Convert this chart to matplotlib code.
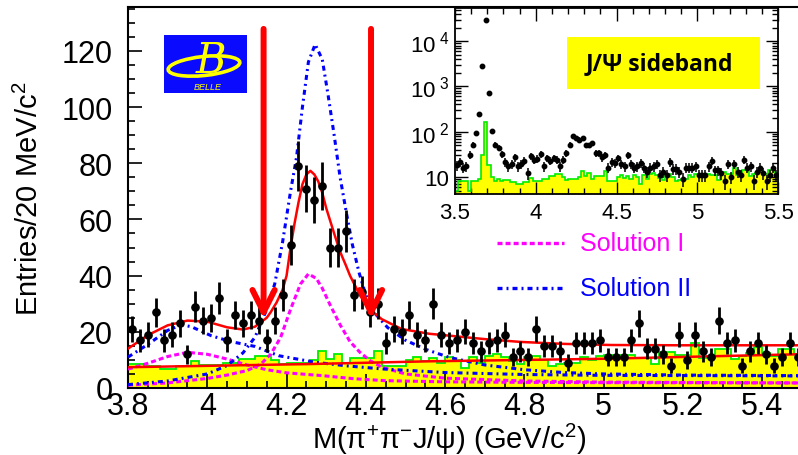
import numpy as np
import matplotlib
matplotlib.use("Agg")
import matplotlib.pyplot as plt
from matplotlib.patches import Rectangle, Ellipse
from matplotlib.ticker import MultipleLocator, FixedLocator, LogLocator, NullFormatter, FuncFormatter

plt.rcParams['font.family'] = ['Liberation Sans', 'DejaVu Sans']
plt.rcParams['mathtext.fontset'] = 'custom'
plt.rcParams['mathtext.rm'] = 'Liberation Sans'
plt.rcParams['mathtext.it'] = 'Liberation Sans:italic'
plt.rcParams['mathtext.bf'] = 'Liberation Sans:bold'
plt.rcParams['lines.scale_dashes'] = False

# ---- 20 MeV/c^2 bins of M(pi+ pi- J/psi), 3.5 - 5.5 GeV/c^2 ----
bin_edges = np.round(np.linspace(3.50, 5.50, 101), 3)
bin_centers = 0.5 * (bin_edges[:-1] + bin_edges[1:])

# events per bin (signal region)
data_counts = [
    18, 21, 16, 17, 31, 52, 95, 251, 2870, 29000, 724, 105, 52, 44, 32,
    21, 17, 19, 27, 17, 19, 23, 12, 29, 24, 25, 32, 17, 26, 23, 26, 24, 17, 24, 33,
    51, 79, 71, 67, 72, 50, 50, 56, 33, 34, 27, 30, 16, 21, 20,
    26, 19, 17, 30, 19, 16, 17, 20, 16, 13, 16, 17, 19, 11, 13, 11, 21, 15, 15, 13,
    9, 16, 16, 16, 17, 11, 11, 11, 17, 23, 14, 14, 12, 8, 19, 10, 19, 13, 11, 24,
    16, 17, 8, 13, 16, 12, 8, 11, 16, 11,
]

# normalised J/psi sideband
sideband = [
    5, 8, 8, 8, 5, 8, 8, 9, 30, 165, 18, 10, 8, 9, 8,
    8.5, 8.5, 7.7, 7.7, 6.8, 6.8, 7.7, 7.7, 9.7, 8.2,
    8.2, 8.2, 8.9, 8.9, 10.3, 10.3, 11.5, 11.5, 10, 8.5,
    9, 9, 9, 10, 13.3, 10.3, 12, 9, 10.5, 10.5,
    10.5, 13.3, 8, 8, 8, 10, 10.9, 9.5, 10.5, 9,
    11, 10, 7, 11, 9, 11.5, 12, 11, 9.5, 8.5,
    11, 11.5, 10, 8, 8.5, 9, 9, 11, 10, 11.5,
    11.7, 11.7, 11.7, 11.7, 10.8, 10.8, 8.5, 12.9, 12.9, 11.7,
    11.7, 16, 10.8, 10.8, 13.9, 13.9, 10.3, 11.5, 12.5, 14.6,
    12.5, 11.5, 13.9, 13.9, 12,
]

# ---- fit curves (mass in GeV/c^2, entries per bin) ----
fit_mass = [3.80, 3.85, 3.90, 3.95, 4.00, 4.05, 4.09, 4.12, 4.15, 4.16, 4.175, 4.19,
            4.20, 4.21, 4.22, 4.23, 4.24, 4.25, 4.26, 4.27, 4.28, 4.29, 4.30, 4.31,
            4.32, 4.335, 4.35, 4.36, 4.385, 4.41, 4.44, 4.49, 4.56, 4.62, 4.70,
            4.79, 4.90, 5.02, 5.20, 5.49]
fit_total = [14.0, 18.8, 22.3, 24.0, 23.6, 21.6, 20.8, 21.8, 25.0, 27.0, 30.5, 35.0,
             40.0, 50.0, 58.5, 66.0, 72.5, 76.0, 77.3, 76.0, 73.5, 69.5, 64.0, 59.5,
             55.0, 48.5, 43.5, 40.0, 33.0, 28.0, 24.5, 21.0, 19.3, 18.5, 17.4,
             16.4, 15.7, 15.3, 15.2, 15.2]

bkg_mass = [3.80, 4.25, 4.56, 5.00, 5.49]
bkg_fit = [7.4, 8.5, 9.5, 10.4, 12.0]

sol1_y4008_mass = [3.80, 3.85, 3.90, 3.95, 4.00, 4.05, 4.10, 4.15, 4.20, 4.29, 4.37,
                   4.45, 4.60, 4.80, 5.00, 5.49]
sol1_y4008 = [6.7, 8.8, 11.2, 12.7, 12.0, 10.3, 8.2, 6.5, 5.4, 4.4, 3.3,
              2.6, 2.2, 2.0, 1.9, 1.8]

sol1_y4260_mass = [3.80, 3.90, 4.00, 4.05, 4.10, 4.135, 4.16, 4.185, 4.21, 4.235,
                   4.255, 4.275, 4.29, 4.31, 4.335, 4.36, 4.385, 4.41, 4.44, 4.50,
                   4.60, 4.80, 5.00, 5.49]
sol1_y4260 = [1.0, 1.8, 3.4, 4.6, 6.2, 8.5, 12.0, 18.0, 28.0, 37.0,
              40.6, 39.0, 35.5, 29.5, 22.5, 16.5, 12.7, 9.8, 7.4, 5.0,
              3.5, 2.5, 2.1, 1.8]

sol2_y4008_mass = [3.80, 3.85, 3.90, 3.935, 3.96, 4.01, 4.06, 4.12, 4.18, 4.27, 4.35,
                   4.44, 4.60, 4.80, 5.00, 5.49]
sol2_y4008 = [11.0, 15.5, 20.5, 22.5, 21.8, 18.6, 16.5, 14.8, 11.5, 9.2, 7.9,
              6.8, 5.5, 4.8, 4.5, 4.3]

sol2_y4260_mass = [3.80, 3.90, 4.00, 4.05, 4.09, 4.12, 4.15, 4.17, 4.19, 4.21, 4.225,
                   4.24, 4.255, 4.272, 4.29, 4.305, 4.32, 4.335, 4.35, 4.366, 4.383,
                   4.40, 4.42, 4.455, 4.50, 4.55, 4.61, 4.70, 4.80, 4.90, 5.00,
                   5.20, 5.49]
sol2_y4260 = [1.2, 2.5, 5.0, 8.0, 12.5, 18.0, 28.0, 37.0, 52.0, 70.0, 82.0,
              100.0, 116.0, 122.3, 117.0, 104.0, 90.0, 75.0, 63.0, 51.0, 41.0,
              33.0, 27.0, 21.5, 17.0, 13.8, 10.9, 8.2, 6.5, 5.5, 5.0,
              4.6, 4.4]

# signal-window markers
window_edges = [4.142, 4.413]

YELLOW = '#ffff00'
GREEN = '#00ee00'
MAGENTA = '#ff00ff'
BLUE = '#0000ff'
RED = '#ff0000'
DASH = (3.6, 2.2)
DASHDOT = (3.6, 2.9, 1.4, 2.9)

counts = np.array(data_counts, dtype=float)
errors = np.sqrt(counts)

fig = plt.figure(figsize=(7.98, 4.56), dpi=100)

# ---------------- main panel ----------------
ax = fig.add_axes([128 / 798, 67 / 456, 670 / 798, 381 / 456])
ax.set_xlim(3.8, 5.49)
ax.set_ylim(0, 135.6)

ax.stairs(sideband, bin_edges, baseline=0, fill=True, color=YELLOW, lw=0, zorder=1)
ax.stairs(sideband, bin_edges, baseline=0, color=GREEN, lw=1.3, zorder=2)

ax.plot(sol1_y4008_mass, sol1_y4008, color=MAGENTA, lw=2.2, dashes=DASH, zorder=3)
ax.plot(sol1_y4260_mass, sol1_y4260, color=MAGENTA, lw=2.2, dashes=DASH, zorder=3)
ax.plot(sol2_y4008_mass, sol2_y4008, color=BLUE, lw=2.2, dashes=DASHDOT, zorder=3)
ax.plot(sol2_y4260_mass, sol2_y4260, color=BLUE, lw=2.2, dashes=DASHDOT, zorder=3)
ax.plot(bkg_mass, bkg_fit, color=RED, lw=1.8, zorder=4)
ax.plot(fit_mass, fit_total, color=RED, lw=1.8, zorder=4)

ax.errorbar(bin_centers, counts, yerr=errors, fmt='o', color='black', ms=5.2,
            elinewidth=2.0, capsize=0, zorder=6)

for xm in window_edges:
    ax.annotate('', xy=(xm, 24.6), xytext=(xm, 127.8),
                arrowprops=dict(arrowstyle='->,head_length=1.6,head_width=0.8',
                                color=RED, lw=4.3, shrinkA=0, shrinkB=0,
                                mutation_scale=10),
                zorder=7)

# legend
ax.plot([0.551, 0.650], [0.38, 0.38], transform=ax.transAxes, color=MAGENTA,
        lw=2.4, dashes=DASH)
ax.text(0.675, 0.38, 'Solution I', transform=ax.transAxes, color=MAGENTA,
        fontsize=18, va='center', ha='left')
ax.plot([0.551, 0.650], [0.262, 0.262], transform=ax.transAxes, color=BLUE,
        lw=2.4, dashes=DASHDOT)
ax.text(0.675, 0.262, 'Solution II', transform=ax.transAxes, color=BLUE,
        fontsize=18, va='center', ha='left')

ax.xaxis.set_major_locator(MultipleLocator(0.2))
ax.xaxis.set_minor_locator(MultipleLocator(0.05))
ax.yaxis.set_major_locator(MultipleLocator(20))
ax.yaxis.set_minor_locator(MultipleLocator(5))
ax.xaxis.set_major_formatter(FuncFormatter(lambda v, p: f'{round(v, 2):g}'))
ax.tick_params(which='both', direction='in', top=False, right=False, width=1.2)
ax.tick_params(which='major', length=10, labelsize=22)
ax.tick_params(which='minor', length=5)
ax.tick_params(axis='x', pad=2.5)
ax.tick_params(axis='y', pad=11)
for s in ('left', 'bottom', 'top'):
    ax.spines[s].set_linewidth(1.5)
ax.spines['right'].set_visible(False)

ax.set_ylabel('Entries/20 MeV/c$^{2}$', fontsize=21)
ax.yaxis.set_label_coords(-0.125, 0.5)
ax.set_xlabel(r'M(π$^{+}$π$^{-}$J/ψ) (GeV/c$^{2}$)', fontsize=21)
ax.xaxis.set_label_coords(0.48, -0.085)

# ---------------- Belle logo ----------------
axl = fig.add_axes([164 / 798, (456 - 94) / 456, 83 / 798, 58 / 456])
axl.set_xlim(0, 83)
axl.set_ylim(0, 58)
axl.set_facecolor('#0a0aff')
axl.set_xticks([])
axl.set_yticks([])
for s in axl.spines.values():
    s.set_visible(False)
axl.add_patch(Ellipse((40, 27), 72, 19, angle=6, fill=False, ec=YELLOW, lw=2.6))
axl.text(47, 21, 'B', color=YELLOW, fontsize=30, fontstyle='italic',
         family=['DejaVu Serif'], ha='center', va='baseline')
axl.text(44, 6, 'BELLE', color=YELLOW, fontsize=6.5, fontstyle='italic',
         ha='center', va='center')

# ---------------- inset: full spectrum, log scale ----------------
axi = fig.add_axes([455 / 798, (456 - 195) / 456, 323 / 798, 186 / 456])
axi.set_yscale('log')
axi.set_xlim(3.5, 5.5)
axi.set_ylim(4.19, 54000)
axi.set_facecolor('white')

axi.stairs(sideband, bin_edges, baseline=1, fill=True, color=YELLOW, lw=0, zorder=1)
axi.stairs(sideband, bin_edges, baseline=1, color=GREEN, lw=1.2, zorder=2)
axi.errorbar(bin_centers, counts, yerr=errors, fmt='o', color='black', ms=3.2,
             elinewidth=1.1, capsize=0, zorder=5)

axi.add_patch(Rectangle((0.347, 0.562), 0.597, 0.281, transform=axi.transAxes,
                        facecolor=YELLOW, edgecolor='none', zorder=6))
axi.text(0.633, 0.703, 'J/Ψ sideband', transform=axi.transAxes, fontsize=16.5,
         fontweight='bold', family=['Open Sans', 'DejaVu Sans'],
         ha='center', va='center', zorder=7)

axi.xaxis.set_major_locator(MultipleLocator(0.5))
axi.xaxis.set_minor_locator(MultipleLocator(0.1))
axi.xaxis.set_major_formatter(FuncFormatter(lambda v, p: f'{round(v, 2):g}'))
axi.yaxis.set_major_locator(FixedLocator([10, 100, 1000, 10000]))
axi.yaxis.set_minor_locator(LogLocator(base=10, subs=np.arange(2, 10)))
axi.yaxis.set_minor_formatter(NullFormatter())
axi.set_yticklabels(['10', r'10$^{\ 2}$', r'10$^{\ 3}$', r'10$^{\ 4}$'])
axi.tick_params(which='both', direction='in', top=True, right=True, width=1.0)
axi.tick_params(which='major', length=9, labelsize=16)
axi.tick_params(axis='x', pad=6)
axi.tick_params(axis='y', pad=4)
axi.tick_params(which='minor', length=4.5)
for s in axi.spines.values():
    s.set_linewidth(1.3)

fig.savefig('out.png', dpi=100)
